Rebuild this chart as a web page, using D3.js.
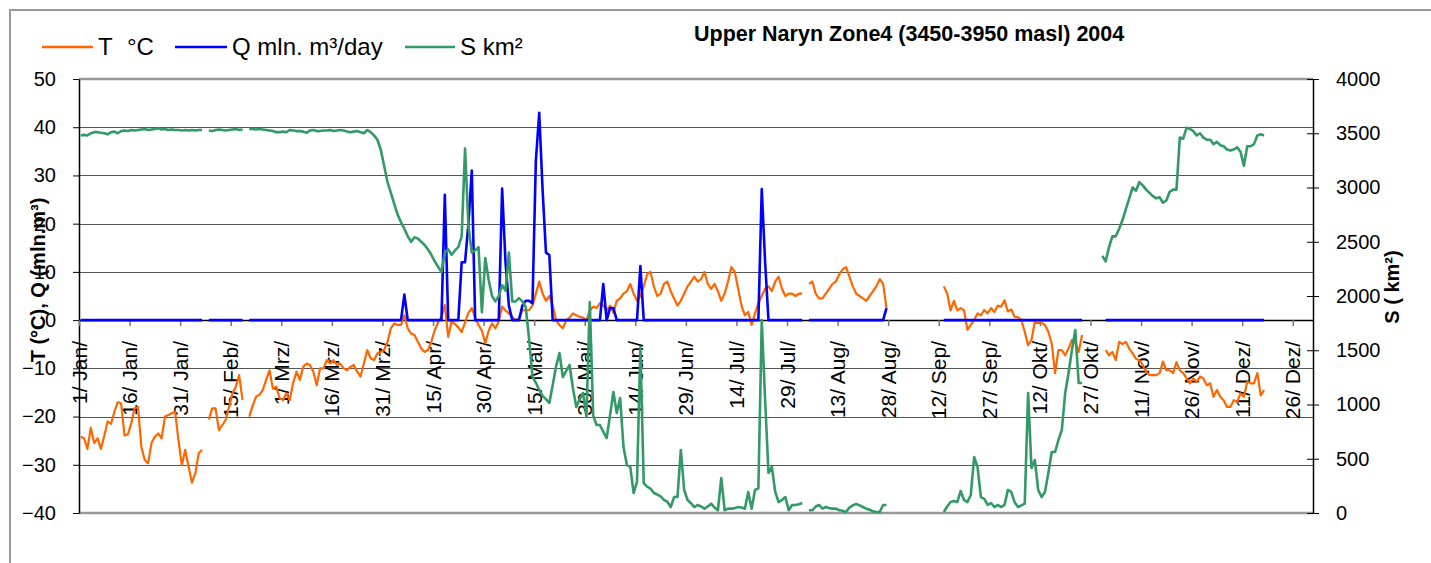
<!DOCTYPE html>
<html><head><meta charset="utf-8">
<script src="https://cdn.jsdelivr.net/npm/d3@7"></script>
<style>
body{margin:0;background:#fff}
svg{display:block}
text{font-family:"Liberation Sans",Arial,Helvetica,sans-serif;fill:#000}
</style></head>
<body><svg id="c" width="1431" height="563"></svg>
<script>
// ---------- DATA (daily values, 2004, index 0 = 1 Jan) ----------
const tickLabels = ["1/ Jan/","16/ Jan/","31/ Jan/","15/ Feb/","1/ Mrz/","16/ Mrz/","31/ Mrz/","15/ Apr/","30/ Apr/","15/ Mai/","30/ Mai/","14/ Jun/","29/ Jun/","14/ Jul/","29/ Jul/","13/ Aug/","28/ Aug/","12/ Sep/","27/ Sep/","12/ Okt/","27/ Okt/","11/ Nov/","26/ Nov/","11/ Dez/","26/ Dez/"];
const leftTicks = [-40,-30,-20,-10,0,10,20,30,40,50];
const rightTicks = [0,500,1000,1500,2000,2500,3000,3500,4000];
const _ = null;

// Temperature T (°C)
const T = [
-24.2,-24.5,-26.7,-22.3,-25.5,-24.5,-26.7,-24.0,-21.0,-21.5,
-19.0,-17.0,-17.3,-23.9,-23.7,-21.4,-18.3,-18.0,-26.3,-29.0,
-29.7,-25.5,-24.2,-23.5,-24.5,-20.0,-19.7,-19.3,-19.0,-24.9,
-30.1,-26.9,-30.4,-33.7,-31.8,-27.6,-26.9,_,-20.6,-18.3,
-18.3,-22.8,-21.8,-20.7,-18.0,-15.2,-13.8,-11.4,-16.6,_,
-20.0,-17.8,-15.9,-15.5,-14.5,-12.4,-10.4,-14.2,-13.8,-16.2,
-16.6,-15.2,-16.6,-13.1,-10.7,-12.4,-9.7,-9.0,-9.3,-10.7,
-13.5,-10.0,-10.0,-8.3,-9.0,-8.3,-9.3,-9.0,-10.0,-10.4,
-9.7,-9.3,-10.7,-11.7,-9.0,-6.2,-7.9,-8.3,-6.9,-6.6,
-6.2,-4.5,-1.7,-0.7,-1.0,-1.0,1.0,-1.7,-2.8,-3.1,
-4.5,-5.9,-6.6,-6.2,-4.5,-2.1,-0.5,0.7,3.1,-3.5,
-0.3,-0.8,-1.5,-2.5,-0.5,1.5,2.5,0.5,-1.0,-2.2,
-4.8,-2.2,-0.7,-1.7,-0.3,2.8,2.0,1.4,0.7,0.0,
0.3,2.1,2.0,2.1,3.0,5.5,8.0,5.5,4.0,5.0,
3.0,0.0,-1.0,-1.7,0.0,0.5,1.4,1.0,0.7,0.5,
0.0,2.0,2.8,2.5,3.5,3.0,2.0,3.0,1.5,4.0,
4.5,5.5,6.0,7.5,5.5,4.0,5.0,7.0,9.5,10.0,
7.0,5.0,5.5,7.5,8.0,6.0,4.5,3.0,4.0,5.5,
7.0,8.0,9.0,8.0,8.5,10.0,7.5,6.5,7.5,6.0,
4.0,5.5,8.0,11.0,10.0,6.5,3.0,1.0,1.7,-1.0,
1.4,3.5,5.0,6.5,7.0,6.0,8.0,9.0,6.5,5.0,
5.5,5.5,5.0,5.5,5.5,_,7.5,8.0,5.5,4.5,
4.5,5.5,6.5,7.5,8.0,9.5,10.5,11.0,9.0,7.0,
5.5,5.0,4.5,4.0,5.0,6.0,7.0,8.5,7.5,2.5,
_,_,_,_,_,_,_,_,_,_,
_,_,_,_,_,_,7.0,5.5,2.0,4.0,
2.0,2.5,2.0,-2.0,-1.0,0.0,1.4,1.0,2.1,1.4,
2.5,1.7,3.0,2.8,4.1,1.8,2.2,0.7,0.6,0.0,
-2.4,-5.2,-4.1,-0.3,-0.6,-0.6,-1.0,-2.4,-4.8,-11.0,
-6.2,-6.2,-7.3,-5.9,-4.1,-4.8,-6.6,-3.1,_,_,
_,_,_,_,-6.2,-7.3,-6.6,-8.3,-4.5,-5.0,
-4.5,-5.9,-6.9,-8.0,-8.3,-9.3,-10.7,-11.4,-11.4,-11.4,
-11.0,-8.6,-10.4,-10.4,-11.0,-8.7,-10.4,-11.0,-12.1,-13.1,
-12.1,-12.8,-11.7,-12.1,-13.5,-13.1,-15.9,-14.5,-15.9,-16.6,
-18.0,-18.0,-16.6,-17.0,-15.2,-15.9,-12.8,-13.1,-13.1,-11.0,
-15.6,-14.5,_,_,_,_,_,_,_,_,
_,_,_,_,_,_
];

// Discharge Q (mln. m³/day)
const Q = [
0,0,0,0,0,0,0,0,0,0, 0,0,0,0,0,0,0,0,0,0, 0,0,0,0,0,0,0,0,0,0,
0,0,0,0,0,0,0,_,0,0, 0,0,0,0,0,0,0,0,0,_, 0,0,0,0,0,0,0,0,0,0,
0,0,0,0,0,0,0,0,0,0, 0,0,0,0,0,0,0,0,0,0, 0,0,0,0,0,0,0,0,0,0,
0,0,0,0,0,0,5.3,0,0,0, 0,0,0,0,0,0,0,0,26.0,0, 0,0,0,12,12,20,31,0,0,0,
0,0,0,0,0,27.3,12,3,0,0, 0,3,4,4,3.5,33,43,27,14,13.5, 0,0,0,0,0,0,0,0,0,0,
0,0,0,0,0,7.5,0,2.5,2.5,0, 0,0,0,0,0,0,11.2,0,0,0, 0,0,0,0,0,0,0,0,0,0,
0,0,0,0,0,0,0,0,0,0, 0,0,0,0,0,0,0,0,0,0, 0,0,27.2,12,0,0,0,0,0,0,
0,0,0,0,0,_,0,0,0,0, 0,0,0,0,0,0,0,0,0,0, 0,0,0,0,0,0,0,0,0,2.5,
_,_,_,_,_,_,_,_,_,_, _,_,_,_,_,_,0,0,0,0, 0,0,0,0,0,0,0,0,0,0,
0,0,0,0,0,0,0,0,0,0, 0,0,0,0,0,0,0,0,0,0, 0,0,0,0,0,0,0,0,_,_,
_,_,_,_,0,0,0,0,0,0, 0,0,0,0,0,0,0,0,0,0, 0,0,0,0,0,0,0,0,0,0,
0,0,0,0,0,0,0,0,0,0, 0,0,0,0,0,0,0,0,0,0, 0,0,_,_,_,_,_,_,_,_,
_,_,_,_,_,_
];

// Snow-covered area S (km²)
const S = [
3480,3485,3480,3500,3510,3510,3505,3500,3490,3510,
3515,3500,3520,3525,3520,3530,3525,3530,3535,3540,
3530,3535,3540,3545,3535,3540,3530,3535,3530,3530,
3525,3530,3525,3530,3525,3530,3530,_,3525,3520,
3530,3535,3530,3525,3530,3535,3540,3530,3535,_,
3540,3540,3535,3540,3535,3530,3525,3520,3510,3510,
3515,3510,3530,3525,3520,3520,3515,3505,3525,3530,
3520,3520,3525,3525,3530,3520,3525,3530,3525,3515,
3510,3515,3520,3510,3500,3530,3510,3480,3440,3350,
3200,3050,2950,2850,2750,2680,2620,2550,2500,2540,
2530,2500,2470,2430,2380,2320,2270,2220,2400,2430,
2380,2420,2450,2550,3360,2650,2400,2420,2450,1850,
2350,2150,2000,1950,2000,2100,2050,2400,1950,1950,
1980,1950,1900,1600,1256,1200,1134,1080,1050,1014,
1180,1350,1475,1253,1310,1364,1150,977,1050,1106,
885,1945,900,811,811,750,691,900,1115,922,
1060,608,442,424,184,286,1530,276,243,225,
184,170,153,120,104,55,147,147,580,212,
120,90,55,74,60,40,60,86,50,25,
322,25,40,40,45,55,50,40,194,40,
212,227,1779,1041,369,424,194,101,120,147,
25,74,74,80,92,_,25,25,60,74,
40,55,45,40,40,25,20,9,50,70,
83,70,55,40,30,15,9,9,74,74,
_,_,_,_,_,_,_,_,_,_,
_,_,_,_,_,_,9,60,101,110,
101,203,120,101,166,516,424,147,130,74,
92,55,74,55,74,212,194,100,55,70,
86,1106,415,488,212,147,194,369,562,562,
673,765,1106,1290,1502,1687,1198,1198,_,_,
_,_,_,2370,2320,2450,2550,2550,2620,2700,
2800,2900,3000,2970,3050,3020,2980,2950,2920,2900,
2910,2860,2880,2960,2980,2980,3460,3450,3550,3540,
3520,3480,3500,3460,3440,3440,3400,3420,3390,3380,
3350,3340,3350,3370,3330,3200,3380,3380,3400,3480,
3490,3480,_,_,_,_,_,_,_,_,
_,_,_,_,_,_
];

const seriesNames = [["T ","°C"],["Q mln. m³/day"],["S km²"]];
const seriesColors = ["#ff6600","#0000ff","#339966"];

// ---------- CHART ----------
const N = T.length;
const svg = d3.select("#c");
const L = 79, R = 1313, TOP = 79, BOT = 513;

const xb = d3.scaleBand().domain(d3.range(N)).range([L, R]).padding(0);
const xe = d3.scaleLinear().domain([0, N]).range([L, R]); // category edges
const yL = d3.scaleLinear().domain([-40, 50]).range([BOT, TOP]);
const yR = d3.scaleLinear().domain([0, 4000]).range([BOT, TOP]);
const cx = i => xb(i) + xb.bandwidth() / 2;

// outer chart border
svg.append("path").attr("d", `M10,563 L10,10 L1431,10`).attr("fill","none").attr("stroke","#999").attr("stroke-width",2);

// gridlines
const grid = svg.append("g").attr("transform", `translate(${L},0)`)
  .call(d3.axisLeft(yL).tickValues(leftTicks.slice(1, -1)).tickSize(-(R - L)).tickFormat(""));
grid.select(".domain").remove();
grid.selectAll("line").attr("stroke", "#555").attr("stroke-width", 1).attr("shape-rendering","crispEdges");

// plot area border top/bottom
svg.append("line").attr("x1",L).attr("x2",R).attr("y1",TOP).attr("y2",TOP).attr("stroke","#999").attr("stroke-width",2.5);
svg.append("line").attr("x1",L).attr("x2",R).attr("y1",BOT).attr("y2",BOT).attr("stroke","#999").attr("stroke-width",2.5);

// left axis
const ax = svg.append("g").attr("transform", `translate(${L},0)`)
  .call(d3.axisLeft(yL).tickValues(leftTicks).tickSize(6).tickPadding(17).tickSizeOuter(0).tickFormat(d3.format("d")));
ax.select(".domain").attr("stroke","#000").attr("stroke-width",1.5);
ax.selectAll("line").attr("stroke","#000");
ax.selectAll("text").attr("font-size", 20).attr("font-family", "Liberation Sans, Arial, sans-serif");

// right axis
const ar = svg.append("g").attr("transform", `translate(${R},0)`)
  .call(d3.axisRight(yR).tickValues(rightTicks).tickSize(6).tickPadding(17).tickSizeOuter(0).tickFormat(d3.format("d")));
ar.select(".domain").attr("stroke","#000").attr("stroke-width",1.5);
ar.selectAll(".tick line").attr("x1", -6).attr("x2", 6).attr("stroke","#000");
ar.selectAll("text").attr("font-size", 20).attr("font-family", "Liberation Sans, Arial, sans-serif");

// x axis at zero
const tickIdx = tickLabels.map((d, k) => k * 15);
const xaxis = svg.append("g").attr("transform", `translate(0,${yL(0)})`)
  .call(d3.axisBottom(xe).tickValues(tickIdx).tickSize(6).tickFormat("").tickSizeOuter(0));
xaxis.select(".domain").attr("stroke","#000").attr("stroke-width",1.5);
xaxis.selectAll(".tick line").attr("stroke","#777").attr("stroke-width",1.5);

svg.append("g").selectAll("text").data(tickLabels).join("text")
  .attr("transform", (d, k) => `translate(${xe(tickIdx[k])},341) rotate(-90)`)
  .attr("text-anchor", "end").attr("dy", "0.36em").attr("font-size", 21)
  .text(d => d);

// series lines
svg.append("clipPath").attr("id","pa").append("rect")
  .attr("x",L).attr("y",TOP-2).attr("width",R-L).attr("height",BOT-TOP+4);
const lineL = d3.line().defined(d => d != null).x((d, i) => cx(i)).y(d => yL(d));
const lineR = d3.line().defined(d => d != null).x((d, i) => cx(i)).y(d => yR(d));
const plot = svg.append("g").attr("clip-path","url(#pa)");
plot.append("path").datum(T).attr("d", lineL).attr("fill","none").attr("stroke",seriesColors[0]).attr("stroke-width",2.2).attr("stroke-linejoin","round");
plot.append("path").datum(Q).attr("d", lineL).attr("fill","none").attr("stroke",seriesColors[1]).attr("stroke-width",2.6).attr("stroke-linejoin","round");
plot.append("path").datum(S).attr("d", lineR).attr("fill","none").attr("stroke",seriesColors[2]).attr("stroke-width",2.6).attr("stroke-linejoin","round");

// axis titles
svg.append("text").attr("transform","translate(38,280) rotate(-90)").attr("text-anchor","middle")
  .attr("dy","0.35em").attr("font-size",20).attr("font-weight","bold").text("T (°C), Q (mln.m³)");
svg.append("text").attr("transform","translate(1392,287) rotate(-90)").attr("text-anchor","middle")
  .attr("dy","0.35em").attr("font-size",20).attr("font-weight","bold").text("S ( km²)");

// title
svg.append("text").attr("x",694).attr("y",41).attr("font-size",21.5).attr("font-weight","bold")
  .text("Upper Naryn Zone4 (3450-3950 masl) 2004");

// legend
const legX = [[42,93,98],[175,227,232],[405,455,460]];
const leg = svg.append("g");
seriesNames.forEach((parts, k) => {
  leg.append("line").attr("x1",legX[k][0]).attr("x2",legX[k][1]).attr("y1",47).attr("y2",47)
    .attr("stroke",seriesColors[k]).attr("stroke-width",2.6);
  const t = leg.append("text").attr("x",legX[k][2]).attr("y",55).attr("font-size",24);
  parts.forEach((p, j) => t.append("tspan").attr("dx", j ? 8 : 0).text(p));
});
</script></body></html>
